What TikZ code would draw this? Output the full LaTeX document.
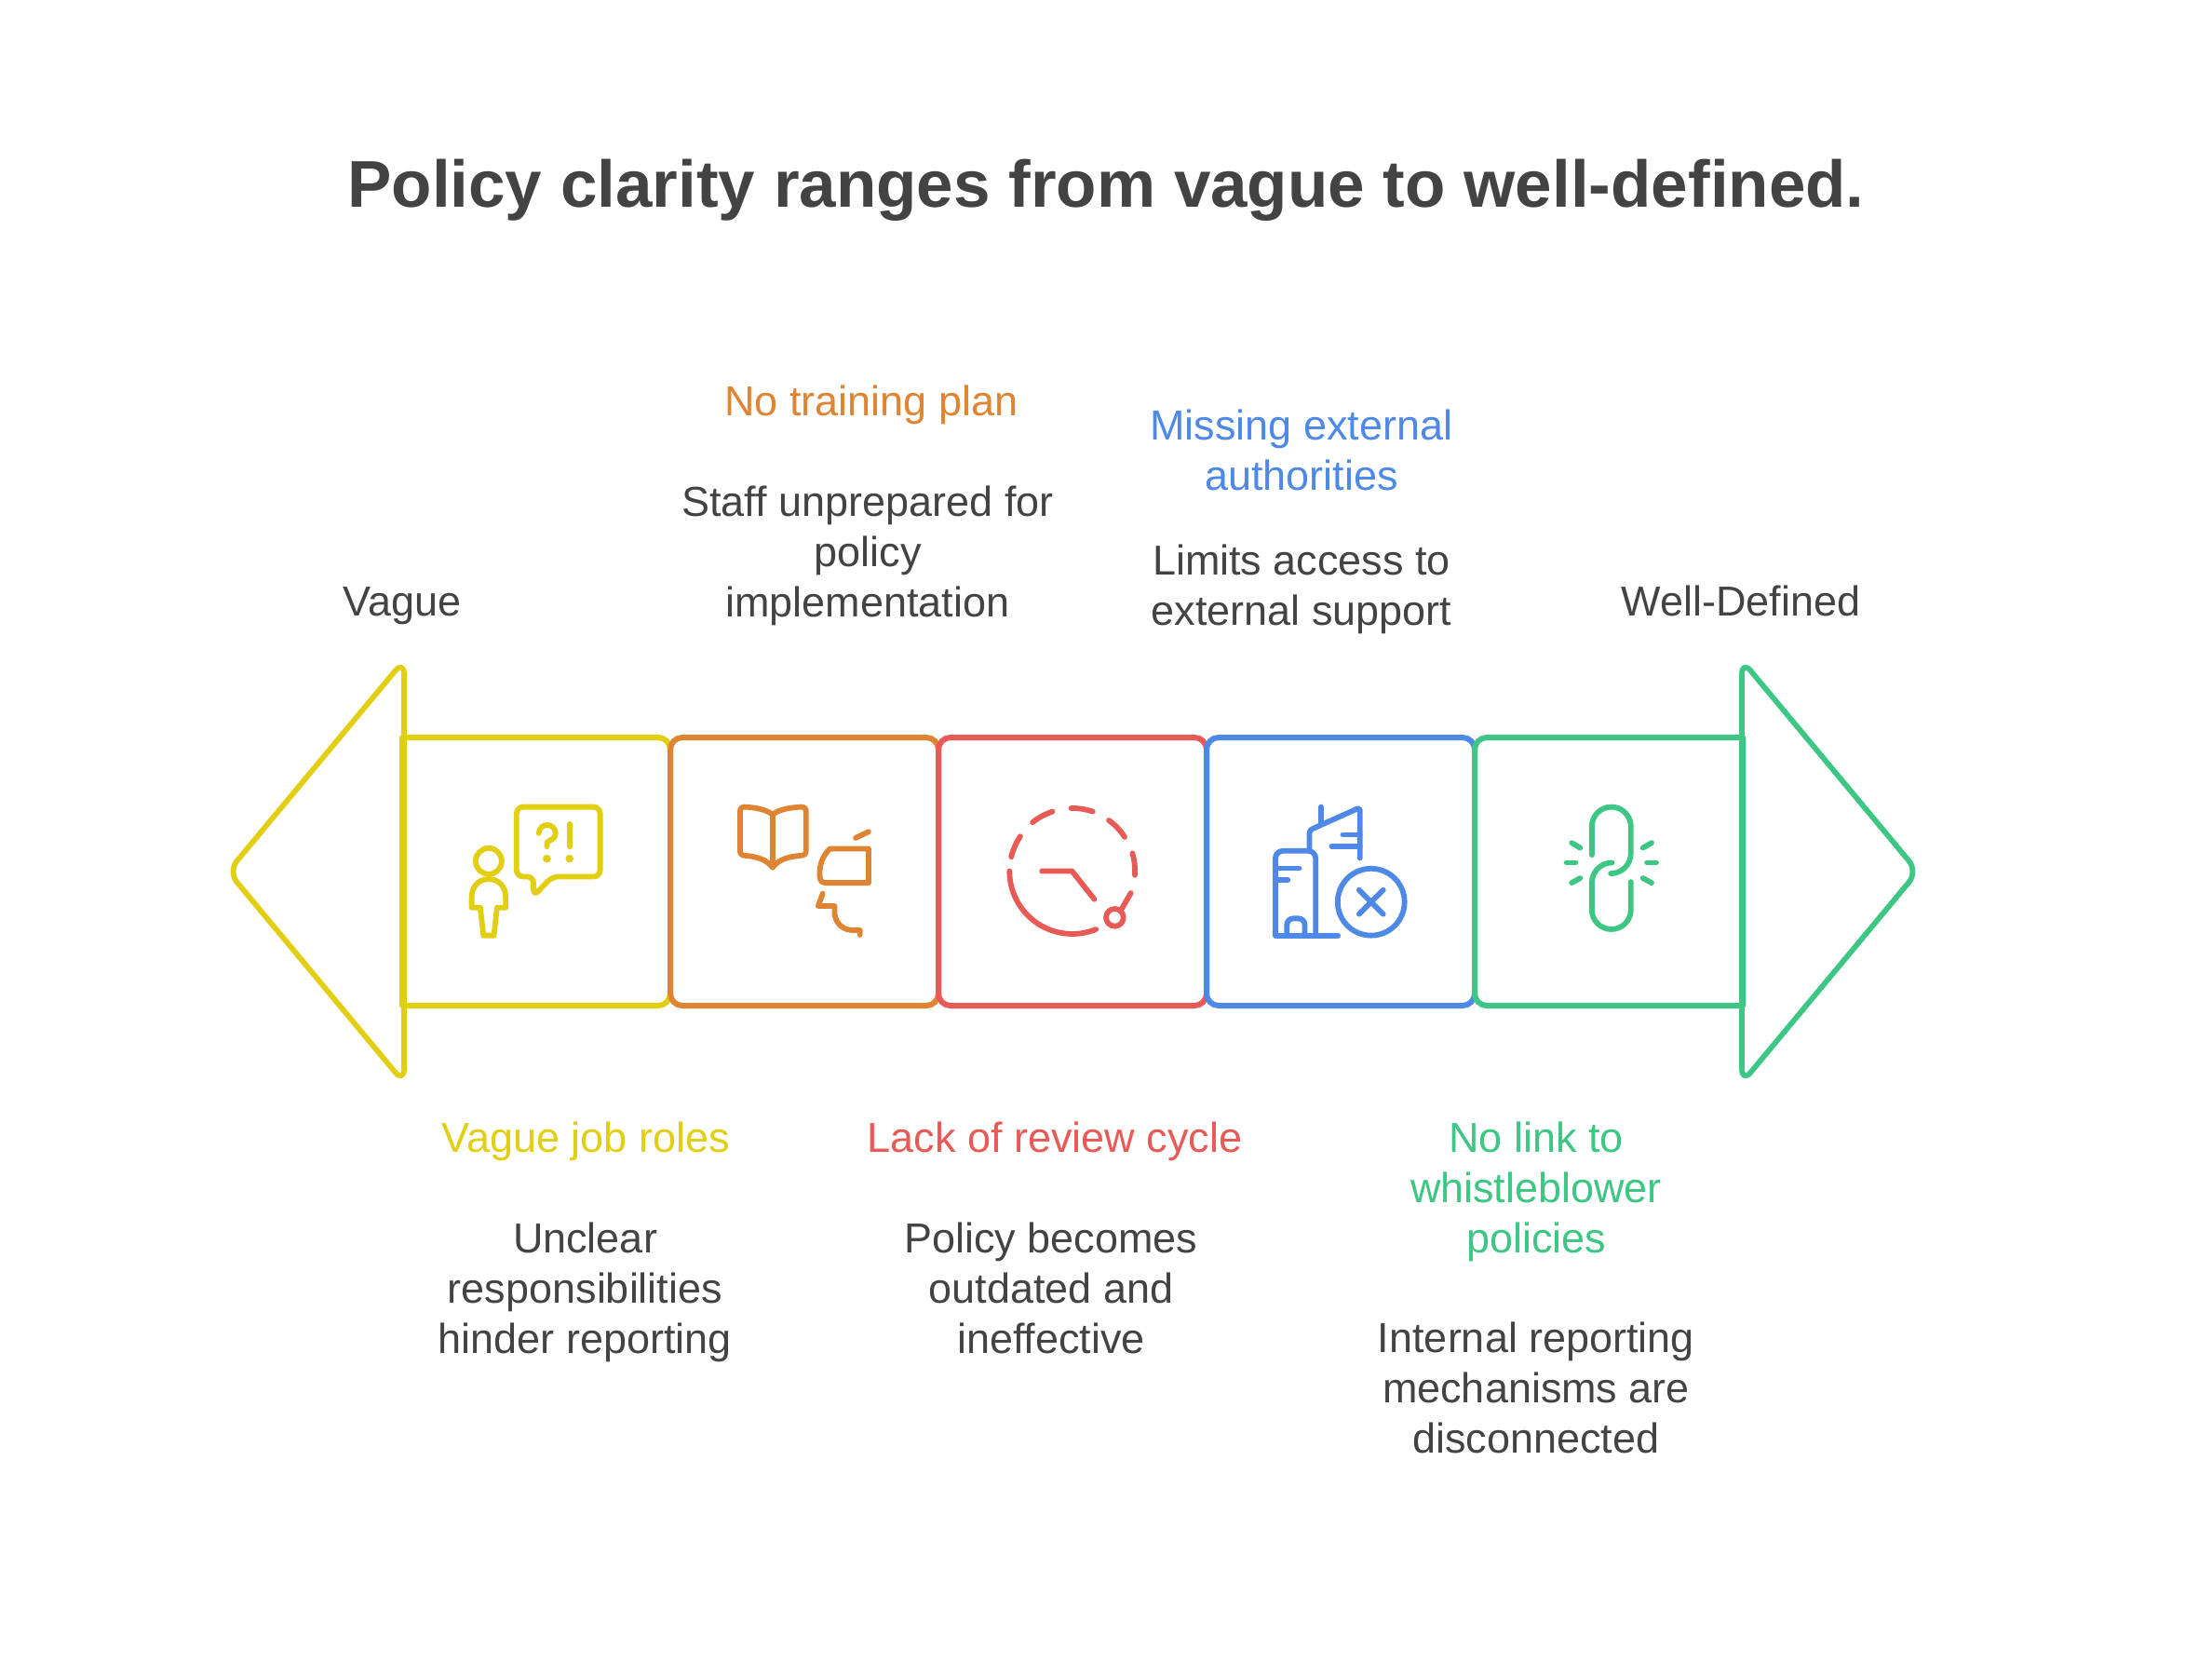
\documentclass[tikz,border=0pt]{standalone}
\usepackage{fontspec}
\setmainfont{Liberation Sans}
\usetikzlibrary{positioning}

\definecolor{darktext}{HTML}{434343}
\definecolor{bandyellow}{HTML}{E2CE12}
\definecolor{bandorange}{HTML}{DF8432}
\definecolor{bandred}{HTML}{E85A55}
\definecolor{bandblue}{HTML}{4E89E7}
\definecolor{bandgreen}{HTML}{3EC684}

\tikzset{
  bandline/.style={line width=0.06cm, line join=round},
  arrowline/.style={line width=0.058cm, line join=round, rounded corners=0.15cm},
  bandbox/.style={draw, bandline, rectangle, rounded corners=0.13cm, minimum width=2.88cm, minimum height=2.88cm, inner sep=0pt, outer sep=0pt},
  iconline/.style={line width=0.058cm, line cap=round, line join=round},
  itemhead/.style={font=\fontsize{12.8}{15.35}\selectfont, align=center, inner sep=0pt},
  itembody/.style={font=\fontsize{12.8}{15.35}\selectfont, align=center, inner sep=0pt, text=darktext},
}

\begin{document}
\begin{tikzpicture}
\useasboundingbox (0,0) rectangle (23.76,18);

% Title
\node[font=\bfseries\fontsize{20.2}{24}\selectfont, text=darktext, inner sep=0pt] (title) at (11.88,15.96) {Policy clarity ranges from vague to well-defined.};

% Draw arrow heads
\draw[arrowline, draw=bandyellow] (4.34,10.91) -- (2.45,8.64) -- (4.34,6.37) -- cycle;
\draw[arrowline, draw=bandgreen] (18.71,10.91) -- (20.60,8.64) -- (18.71,6.37) -- cycle;

% Draw band boxes
\draw[bandline, draw=bandyellow] (4.32,10.08) [rounded corners=0.13cm] -- (7.20,10.08) -- (7.20,7.20) [sharp corners] -- (4.32,7.20) -- cycle;
\node[bandbox, draw=bandorange] (boxorange) at (8.64,8.64) {};
\node[bandbox, draw=bandred] (boxred) at (11.52,8.64) {};
\node[bandbox, draw=bandblue] (boxblue) at (14.40,8.64) {};
\draw[bandline, draw=bandgreen] (18.72,7.20) [rounded corners=0.13cm] -- (15.84,7.20) -- (15.84,10.08) [sharp corners] -- (18.72,10.08) -- cycle;

% Person icon
\begin{scope}[shift={(4.80,9.60)}, x=0.003333cm, y=-0.003333cm, iconline, draw=bandyellow]
\draw (135,255) circle (42);
\draw (135,313) .. controls (100,313) and (80,340) .. (80,372) -- (80,405) -- (108,405) -- (118,495) -- (152,495) -- (162,405) -- (190,405) -- (190,372) .. controls (190,340) and (170,313) .. (135,313);
\draw[rounded corners=0.07cm] (225,80) -- (495,80) -- (495,305) -- (340,305) -- (280,368) -- (280,305) -- (225,305) -- cycle;
\draw (297,165) arc (180:390:27) -- (323,195) -- (323,208);
\draw (396,135) -- (396,208);
\fill[bandyellow] (323,247) circle (13);
\fill[bandyellow] (396,247) circle (13);
\end{scope}

% Book icon
\begin{scope}[shift={(7.70,9.60)}, x=0.003333cm, y=-0.003333cm, iconline, draw=bandorange]
\draw (180,105) .. controls (160,88) and (125,82) .. (90,80) .. controls (80,80) and (75,85) .. (75,95) -- (75,222) .. controls (75,232) and (80,236) .. (90,237) .. controls (130,240) and (160,250) .. (180,275) .. controls (200,250) and (230,240) .. (272,237) .. controls (282,236) and (288,232) .. (288,222) -- (288,95) .. controls (288,85) and (282,80) .. (272,80) .. controls (235,82) and (200,88) .. (180,105) -- cycle;
\draw (180,105) -- (180,275);
\draw (490,215) -- (365,215) .. controls (340,240) and (332,265) .. (332,300) .. controls (332,318) and (340,325) .. (350,325) -- (490,325) -- cycle;
\draw (448,180) -- (490,160);
\draw (342,360) -- (327,400) -- (380,400) -- (380,425) .. controls (385,460) and (410,478) .. (440,478) -- (462,478) -- (462,493);
\end{scope}

% Clock icon
\begin{scope}[shift={(10.60,9.60)}, x=0.003333cm, y=-0.003333cm, iconline, draw=bandred]
\draw (73,287) arc (180:68:203);
\draw (465,358) -- (435,410);
\draw (413,437) circle (28);
\draw (478,300) arc (3.7:-16.4:203);
\draw (445,177) arc (-33:-54:203);
\draw (342,95) arc (-71:-91:203);
\draw (212,95) arc (-108:-128.8:203);
\draw (108,175) arc (-146:-166.5:203);
\draw (178,287) -- (275,287) -- (347,378);
\end{scope}

% Building icon
\begin{scope}[shift={(13.50,9.60)}, x=0.003333cm, y=-0.003333cm, iconline, draw=bandblue]
\draw[rounded corners=0.08cm] (60,495) -- (60,222) -- (190,222) -- (190,495);
\draw (60,495) -- (262,495);
\draw[rounded corners=0.07cm] (97,495) -- (97,440) -- (155,440) -- (155,495);
\draw (60,278) -- (137,278);
\draw (60,315) -- (100,315);
\draw[rounded corners=0.03cm] (170,222) -- (170,155) -- (333,82) -- (333,245);
\draw (207,80) -- (207,135);
\draw (278,170) -- (333,170);
\draw (242,207) -- (333,207);
\draw (369,387) circle (108);
\draw (330,348) -- (408,426);
\draw (408,348) -- (330,426);
\end{scope}

% Broken link icon
\begin{scope}[shift={(16.40,9.60)}, x=0.003333cm, y=-0.003333cm, iconline, draw=bandgreen]
\draw (210,235) -- (210,143) arc (180:360:63) -- (336,230) arc (0:90:65);
\draw (336,322) -- (336,412) arc (0:180:63) -- (210,325) arc (180:270:65);
\draw (145,196) -- (172,212);
\draw (128,260) -- (158,260);
\draw (145,325) -- (172,310);
\draw (403,196) -- (375,212);
\draw (418,260) -- (388,260);
\draw (403,325) -- (375,310);
\end{scope}

% End labels
\node[itembody, anchor=base] (vaguelabel) at (4.32,11.39) {Vague};
\node[itembody, anchor=base] (definedlabel) at (18.70,11.39) {Well-Defined};

% Item texts
\node[itemhead, text=bandorange] (traininghead) at (9.36,13.655) {No training plan};
\node[itembody] (trainingbody) at (9.32,12.03) {Staff unprepared for\\policy\\implementation};

\node[itemhead, text=bandblue] (externalhead) at (13.98,13.165) {Missing external\\authorities};
\node[itembody] (externalbody) at (13.98,11.675) {Limits access to\\external support};

\node[itemhead, text=bandyellow] (roleshead) at (6.29,5.74) {Vague job roles};
\node[itembody] (rolesbody) at (6.285,4.12) {Unclear\\responsibilities\\hinder reporting};

\node[itemhead, text=bandred] (reviewhead) at (11.33,5.74) {Lack of review cycle};
\node[itembody] (reviewbody) at (11.29,4.165) {Policy becomes\\outdated and\\ineffective};

\node[itemhead, text=bandgreen] (linkhead) at (16.50,5.20) {No link to\\whistleblower\\policies};
\node[itembody] (linkbody) at (16.50,3.095) {Internal reporting\\mechanisms are\\disconnected};

\end{tikzpicture}
\end{document}
